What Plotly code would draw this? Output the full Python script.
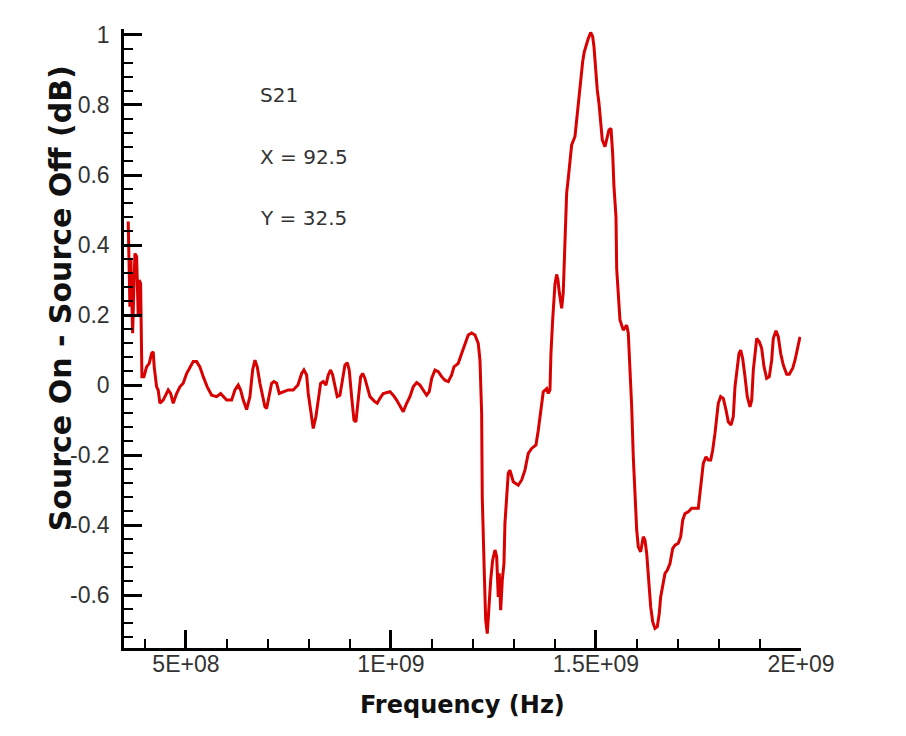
import plotly.graph_objects as go

# Frequency in GHz (converted to Hz when plotted) and dB difference
freq_ghz = [
    0.3593, 0.3634, 0.3659, 0.3700, 0.3756, 0.3798, 0.3837, 0.3861, 0.3895, 0.3910,
    0.3927, 0.3976, 0.4041, 0.4105, 0.4163, 0.4202, 0.4227, 0.4285, 0.4324, 0.4366,
    0.4446, 0.4568, 0.4627, 0.4690, 0.4773, 0.4854, 0.4934, 0.5017, 0.5098, 0.5178,
    0.5261, 0.5341, 0.5422, 0.5520, 0.5627, 0.5749, 0.5846, 0.5910, 0.5993, 0.6115,
    0.6195, 0.6276, 0.6334, 0.6398, 0.6480, 0.6561, 0.6627, 0.6683, 0.6739, 0.6805,
    0.6871, 0.6927, 0.6968, 0.7032, 0.7090, 0.7146, 0.7212, 0.7276, 0.7373, 0.7495,
    0.7617, 0.7732, 0.7822, 0.7878, 0.7944, 0.7983, 0.8041, 0.8105, 0.8171, 0.8227,
    0.8285, 0.8349, 0.8415, 0.8471, 0.8529, 0.8578, 0.8634, 0.8690, 0.8756, 0.8822,
    0.8878, 0.8934, 0.8983, 0.9041, 0.9098, 0.9146, 0.9202, 0.9261, 0.9310, 0.9366,
    0.9422, 0.9488, 0.9610, 0.9666, 0.9732, 0.9812, 0.9976, 1.0056, 1.0139, 1.0220,
    1.0300, 1.0383, 1.0463, 1.0544, 1.0627, 1.0707, 1.0788, 1.0871, 1.0934, 1.0993,
    1.1073, 1.1154, 1.1237, 1.1317, 1.1398, 1.1480, 1.1537, 1.1641, 1.1724, 1.1805,
    1.1885, 1.1968, 1.2049, 1.2129, 1.2171, 1.2212, 1.2227, 1.2276, 1.2310, 1.2349,
    1.2390, 1.2432, 1.2480, 1.2537, 1.2578, 1.2617, 1.2641, 1.2676, 1.2715, 1.2756,
    1.2780, 1.2822, 1.2861, 1.2902, 1.2983, 1.3105, 1.3188, 1.3268, 1.3349, 1.3432,
    1.3537, 1.3593, 1.3634, 1.3676, 1.3715, 1.3798, 1.3837, 1.3878, 1.3902, 1.3944,
    1.4000, 1.4041, 1.4073, 1.4105, 1.4163, 1.4202, 1.4244, 1.4285, 1.4324, 1.4366,
    1.4407, 1.4488, 1.4529, 1.4568, 1.4627, 1.4676, 1.4715, 1.4773, 1.4812, 1.4871,
    1.4920, 1.4951, 1.4993, 1.5032, 1.5073, 1.5115, 1.5154, 1.5220, 1.5261, 1.5317,
    1.5366, 1.5407, 1.5439, 1.5488, 1.5505, 1.5544, 1.5585, 1.5666, 1.5749, 1.5788,
    1.5829, 1.5871, 1.5910, 1.5951, 1.5993, 1.6032, 1.6090, 1.6154, 1.6195, 1.6237,
    1.6276, 1.6334, 1.6383, 1.6439, 1.6495, 1.6544, 1.6578, 1.6627, 1.6683, 1.6739,
    1.6805, 1.6871, 1.6927, 1.7007, 1.7066, 1.7115, 1.7171, 1.7251, 1.7334, 1.7495,
    1.7537, 1.7578, 1.7617, 1.7683, 1.7739, 1.7798, 1.7846, 1.7902, 1.7944, 1.7983,
    1.8041, 1.8105, 1.8171, 1.8227, 1.8293, 1.8349, 1.8390, 1.8432, 1.8488, 1.8529,
    1.8578, 1.8634, 1.8690, 1.8756, 1.8798, 1.8837, 1.8878, 1.8920, 1.8983, 1.9041,
    1.9098, 1.9163, 1.9227, 1.9285, 1.9324, 1.9390, 1.9446, 1.9505, 1.9568, 1.9651,
    1.9715, 1.9798, 1.9854, 1.9910, 1.9976,
]

delta_db = [
    0.467, 0.224, 0.357, 0.148, 0.376, 0.367, 0.195, 0.300, 0.290, 0.119,
    0.024, 0.024, 0.052, 0.062, 0.090, 0.095, 0.052, -0.005, -0.014, -0.052,
    -0.043, -0.014, -0.024, -0.052, -0.024, -0.005, 0.005, 0.033, 0.052, 0.067,
    0.067, 0.052, 0.024, -0.005, -0.029, -0.033, -0.024, -0.033, -0.043, -0.043,
    -0.014, 0.000, -0.014, -0.043, -0.070, -0.033, 0.043, 0.071, 0.052, 0.005,
    -0.033, -0.062, -0.067, -0.033, 0.005, 0.010, 0.005, -0.024, -0.019, -0.014,
    -0.014, 0.000, 0.033, 0.043, 0.029, -0.024, -0.071, -0.124, -0.090, -0.043,
    0.005, 0.010, 0.000, 0.029, 0.043, 0.029, -0.005, -0.033, -0.029, 0.024,
    0.057, 0.064, 0.043, -0.033, -0.100, -0.105, -0.043, 0.024, 0.033, 0.019,
    -0.005, -0.033, -0.048, -0.052, -0.038, -0.024, -0.019, -0.029, -0.043, -0.062,
    -0.076, -0.052, -0.033, -0.005, 0.007, 0.000, -0.014, -0.029, -0.019, 0.019,
    0.043, 0.038, 0.024, 0.014, 0.010, 0.029, 0.052, 0.062, 0.090, 0.119,
    0.143, 0.149, 0.143, 0.119, 0.071, -0.081, -0.319, -0.533, -0.671, -0.710,
    -0.633, -0.557, -0.500, -0.471, -0.490, -0.605, -0.538, -0.643, -0.557, -0.510,
    -0.395, -0.310, -0.252, -0.243, -0.276, -0.286, -0.271, -0.243, -0.195, -0.181,
    -0.171, -0.129, -0.095, -0.057, -0.019, -0.010, -0.024, -0.014, 0.090, 0.186,
    0.288, 0.316, 0.300, 0.265, 0.219, 0.265, 0.395, 0.548, 0.590, 0.643,
    0.686, 0.710, 0.757, 0.814, 0.881, 0.924, 0.952, 0.976, 0.990, 1.007,
    0.995, 0.967, 0.890, 0.843, 0.805, 0.757, 0.700, 0.681, 0.700, 0.729,
    0.733, 0.662, 0.567, 0.481, 0.333, 0.249, 0.186, 0.157, 0.171, 0.148,
    0.052, -0.062, -0.205, -0.329, -0.414, -0.462, -0.476, -0.433, -0.443, -0.481,
    -0.548, -0.633, -0.676, -0.695, -0.690, -0.652, -0.605, -0.567, -0.538, -0.529,
    -0.510, -0.467, -0.457, -0.452, -0.433, -0.386, -0.367, -0.362, -0.352, -0.352,
    -0.310, -0.252, -0.224, -0.205, -0.214, -0.214, -0.186, -0.138, -0.081, -0.052,
    -0.033, -0.038, -0.071, -0.105, -0.114, -0.090, -0.005, 0.043, 0.090, 0.100,
    0.076, 0.024, -0.033, -0.062, -0.043, 0.043, 0.100, 0.133, 0.124, 0.105,
    0.052, 0.019, 0.024, 0.071, 0.133, 0.155, 0.138, 0.090, 0.057, 0.031,
    0.031, 0.048, 0.071, 0.100, 0.138,
]

x_tick_vals = [5e8, 1e9, 1.5e9, 2e9]
x_tick_text = ["5E+08", "1E+09", "1.5E+09", "2E+09"]
y_tick_vals = [-0.6, -0.4, -0.2, 0, 0.2, 0.4, 0.6, 0.8, 1]
y_tick_text = ["-0.6", "-0.4", "-0.2", "0", "0.2", "0.4", "0.6", "0.8", "1"]

info_lines = ["S21", "X = 92.5", "Y = 32.5"]

freq_hz = [f * 1e9 for f in freq_ghz]

fig = go.Figure()
fig.add_trace(go.Scatter(
    x=freq_hz, y=delta_db, mode="lines",
    line=dict(color="#d80000", width=3),
    showlegend=False, hoverinfo="skip",
))

tick_font = dict(family="Liberation Sans", size=23, color="#333333")

fig.update_layout(
    width=906, height=736,
    margin=dict(l=116, r=113, t=21, b=96),
    paper_bgcolor="white", plot_bgcolor="white",
    xaxis=dict(
        range=[3.49e8, 2.0e9],
        showgrid=False, zeroline=False,
        showline=True, linecolor="black", linewidth=2.5,
        tickmode="array", tickvals=x_tick_vals, ticktext=x_tick_text,
        ticks="inside", ticklen=18, tickwidth=2.5, tickcolor="black",
        minor=dict(tickmode="linear", tick0=0, dtick=1e8, ticks="inside",
                   ticklen=9, tickwidth=1.5, tickcolor="black", showgrid=False),
        tickfont=tick_font,
        ticklabelstandoff=-6,
    ),
    yaxis=dict(
        range=[-0.751, 1.017],
        showgrid=False, zeroline=False,
        showline=True, linecolor="black", linewidth=2.5,
        tickmode="array", tickvals=y_tick_vals, ticktext=y_tick_text,
        ticks="inside", ticklen=18, tickwidth=2.5, tickcolor="black",
        minor=dict(tickmode="linear", tick0=0, dtick=0.04, ticks="inside",
                   ticklen=9, tickwidth=1.5, tickcolor="black", showgrid=False),
        tickfont=tick_font,
        ticklabelstandoff=7,
    ),
)

# Axis titles
fig.add_annotation(
    text="Frequency (Hz)", xref="paper", yref="paper",
    x=0.5, y=-0.092, xanchor="center", yanchor="middle", showarrow=False,
    font=dict(family="DejaVu Sans", size=24, color="#111111", weight="bold"),
)
fig.add_annotation(
    text="Source On - Source Off (dB)", xref="paper", yref="paper",
    x=-0.0945, y=0.565, xanchor="center", yanchor="middle", showarrow=False,
    textangle=-90,
    font=dict(family="DejaVu Sans", size=30, color="#111111", weight="bold"),
)

# Info text
info_y = [0.893, 0.793, 0.695]
for txt, yy in zip(info_lines, info_y):
    fig.add_annotation(
        text=txt, xref="paper", yref="paper", x=0.198, y=yy,
        xanchor="left", yanchor="middle", showarrow=False,
        font=dict(family="DejaVu Sans", size=20, color="#333333"),
    )

fig.write_html("out.html")
